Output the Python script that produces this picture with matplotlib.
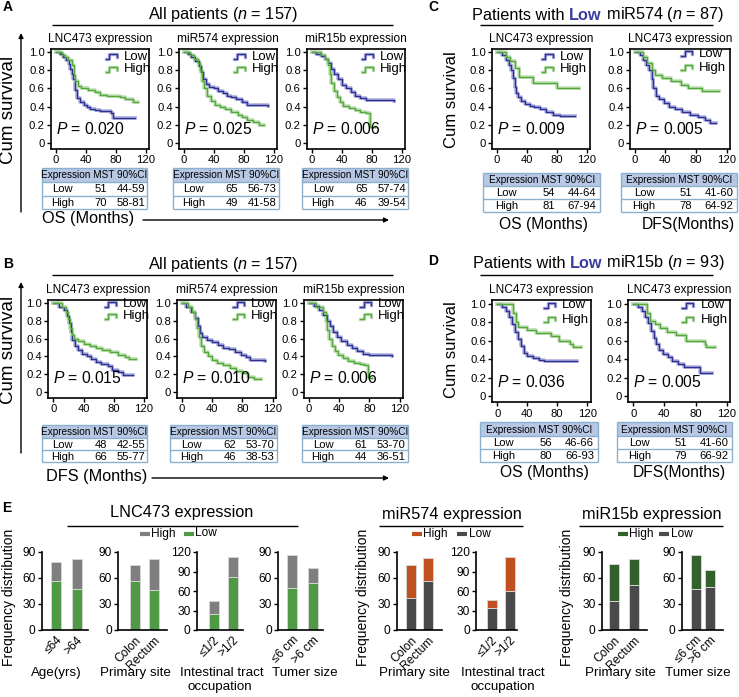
import numpy as np
import matplotlib
matplotlib.use('Agg')
import matplotlib.pyplot as plt
from matplotlib import transforms, font_manager as fm
from matplotlib.lines import Line2D
from matplotlib.patches import Rectangle, FancyArrowPatch
from matplotlib.offsetbox import TextArea, HPacker, AnnotationBbox

# ---------------- DATA ----------------
# Kaplan-Meier step points (months, survival)
A1_low_t = [0, 5, 10, 14, 17, 19, 21, 23, 25, 28, 32, 37, 41, 45, 52, 59, 74, 77, 106]
A1_low_s = [1.0, 0.98, 0.95, 0.92, 0.87, 0.82, 0.76, 0.70, 0.58, 0.49, 0.45, 0.42, 0.40, 0.37, 0.36, 0.35, 0.33, 0.27, 0.27]
A1_high_t = [0, 8, 12, 16, 21, 24, 26, 30, 34, 43, 52, 59, 68, 86, 92, 103, 110]
A1_high_s = [1.0, 0.97, 0.95, 0.92, 0.86, 0.75, 0.68, 0.63, 0.60, 0.58, 0.56, 0.53, 0.52, 0.50, 0.48, 0.45, 0.45]

A2_low_t = [0, 5, 10, 15, 20, 23, 26, 30, 34, 40, 46, 52, 58, 63, 70, 78, 85, 112]
A2_low_s = [1.0, 0.98, 0.95, 0.90, 0.85, 0.78, 0.70, 0.65, 0.62, 0.60, 0.57, 0.55, 0.52, 0.50, 0.48, 0.45, 0.42, 0.41]
A2_high_t = [0, 8, 14, 19, 22, 24, 27, 31, 36, 41, 48, 55, 63, 72, 78, 85, 92, 100, 107]
A2_high_s = [1.0, 0.97, 0.93, 0.88, 0.80, 0.68, 0.60, 0.52, 0.46, 0.42, 0.39, 0.37, 0.34, 0.31, 0.28, 0.25, 0.23, 0.20, 0.20]

A3_low_t = [0, 6, 12, 17, 22, 26, 30, 35, 40, 46, 52, 58, 65, 72, 110]
A3_low_s = [1.0, 0.98, 0.96, 0.93, 0.88, 0.82, 0.76, 0.70, 0.64, 0.60, 0.56, 0.52, 0.49, 0.47, 0.46]
A3_high_t = [0, 12, 17, 21, 24, 26, 29, 33, 37, 42, 50, 57, 64, 72, 78, 84]
A3_high_s = [1.0, 0.97, 0.93, 0.86, 0.76, 0.66, 0.57, 0.50, 0.45, 0.41, 0.38, 0.36, 0.34, 0.33, 0.17, 0.17]

B1_low_t = [0, 8, 14, 18, 21, 23, 25, 29, 33, 38, 44, 50, 56, 63, 72, 78, 85, 92, 106]
B1_low_s = [1.0, 0.96, 0.92, 0.86, 0.78, 0.68, 0.58, 0.52, 0.47, 0.43, 0.40, 0.37, 0.34, 0.31, 0.29, 0.25, 0.22, 0.19, 0.19]
B1_high_t = [0, 12, 17, 20, 22, 25, 28, 33, 40, 48, 56, 65, 75, 85, 95, 100, 110]
B1_high_s = [1.0, 0.96, 0.90, 0.82, 0.72, 0.64, 0.60, 0.57, 0.54, 0.52, 0.49, 0.47, 0.45, 0.42, 0.39, 0.37, 0.37]

B2_low_t = [0, 6, 12, 17, 21, 24, 27, 33, 40, 48, 55, 62, 70, 78, 85, 90, 110]
B2_low_s = [1.0, 0.96, 0.90, 0.83, 0.74, 0.66, 0.62, 0.59, 0.56, 0.53, 0.50, 0.48, 0.45, 0.42, 0.39, 0.36, 0.35]
B2_high_t = [0, 8, 13, 17, 20, 22, 25, 29, 34, 40, 47, 55, 63, 72, 80, 88, 95, 105]
B2_high_s = [1.0, 0.96, 0.90, 0.82, 0.72, 0.62, 0.52, 0.45, 0.40, 0.36, 0.33, 0.30, 0.27, 0.24, 0.21, 0.17, 0.14, 0.14]

B3_low_t = [0, 7, 13, 19, 24, 28, 32, 37, 43, 50, 57, 64, 72, 80, 110]
B3_low_s = [1.0, 0.97, 0.93, 0.87, 0.80, 0.74, 0.68, 0.62, 0.57, 0.53, 0.49, 0.46, 0.43, 0.41, 0.40]
B3_high_t = [0, 10, 18, 22, 24, 27, 30, 34, 39, 45, 52, 60, 68, 73, 78, 84]
B3_high_s = [1.0, 0.96, 0.90, 0.80, 0.70, 0.60, 0.52, 0.46, 0.42, 0.38, 0.35, 0.33, 0.31, 0.30, 0.16, 0.16]

C1_low_t = [0, 7, 12, 16, 19, 22, 24, 26, 29, 33, 38, 44, 50, 58, 66, 75, 84, 105]
C1_low_s = [1.0, 0.97, 0.92, 0.86, 0.80, 0.72, 0.62, 0.55, 0.50, 0.46, 0.43, 0.41, 0.39, 0.37, 0.34, 0.31, 0.30, 0.30]
C1_high_t = [0, 12, 18, 24, 30, 49, 80, 110]
C1_high_s = [1.0, 0.95, 0.90, 0.83, 0.73, 0.66, 0.61, 0.61]

C2_low_t = [0, 6, 11, 15, 19, 22, 24, 27, 32, 38, 45, 53, 62, 72, 82, 92, 98, 106]
C2_low_s = [1.0, 0.97, 0.92, 0.86, 0.80, 0.70, 0.60, 0.52, 0.48, 0.44, 0.40, 0.37, 0.34, 0.31, 0.28, 0.25, 0.22, 0.22]
C2_high_t = [0, 10, 16, 22, 26, 36, 47, 60, 70, 88, 110]
C2_high_s = [1.0, 0.95, 0.88, 0.80, 0.75, 0.72, 0.68, 0.64, 0.60, 0.57, 0.57]

D1_low_t = [0, 6, 11, 16, 20, 23, 27, 31, 35, 40, 47, 55, 62, 106]
D1_low_s = [1.0, 0.97, 0.92, 0.86, 0.78, 0.70, 0.62, 0.54, 0.47, 0.43, 0.41, 0.39, 0.38, 0.38]
D1_high_t = [0, 21, 25, 28, 40, 52, 72, 82, 97, 101, 111]
D1_high_s = [1.0, 0.90, 0.80, 0.75, 0.72, 0.68, 0.65, 0.60, 0.56, 0.53, 0.53]

D2_low_t = [0, 6, 11, 15, 19, 23, 26, 29, 33, 38, 44, 50, 57, 65, 84, 86, 101]
D2_low_s = [1.0, 0.97, 0.92, 0.86, 0.79, 0.71, 0.63, 0.56, 0.50, 0.46, 0.42, 0.38, 0.35, 0.32, 0.31, 0.25, 0.25]
D2_high_t = [0, 18, 21, 28, 34, 43, 55, 68, 92, 94, 105]
D2_high_s = [1.0, 0.90, 0.82, 0.78, 0.74, 0.70, 0.66, 0.60, 0.56, 0.53, 0.53]

p_A = ['0.020', '0.025', '0.006']
p_B = ['0.015', '0.010', '0.006']
p_C = ['0.009', '0.005']
p_D = ['0.036', '0.005']

sub_AB = ['LNC473 expression', 'miR574 expression', 'miR15b expression']
sub_CD = ['LNC473 expression', 'LNC473 expression']

# tables: (group, MST, 90%CI)
tab_A = [[('Low', 51, '44-59'), ('High', 70, '58-81')],
         [('Low', 65, '56-73'), ('High', 49, '41-58')],
         [('Low', 65, '57-74'), ('High', 46, '39-54')]]
tab_B = [[('Low', 48, '42-55'), ('High', 66, '55-77')],
         [('Low', 62, '53-70'), ('High', 46, '38-53')],
         [('Low', 61, '53-70'), ('High', 44, '36-51')]]
tab_C = [[('Low', 54, '44-64'), ('High', 81, '67-94')],
         [('Low', 51, '41-60'), ('High', 78, '64-92')]]
tab_D = [[('Low', 56, '46-66'), ('High', 80, '66-93')],
         [('Low', 51, '41-60'), ('High', 79, '66-92')]]

km_xticks = [0, 40, 80, 120]
km_yticks = [0, 0.2, 0.4, 0.6, 0.8, 1.0]
km_yticklabels = ['0', '0.2', '0.4', '0.6', '0.8', '1.0']

# panel E bar data
E_age_cats = ['≤64', '>64'];           E_age_low = [57, 47];   E_age_high = [22, 35]
E_site_cats = ['Colon', 'Rectum'];     E_site_low = [57, 46];  E_site_high = [18, 36]
E_int_cats = ['≤1/2', '>1/2'];         E_int_low = [24, 81];   E_int_high = [21, 32]
E_tum_cats = ['≤6 cm', '>6 cm'];       E_tum_low = [49, 54];   E_tum_high = [37, 17]
M574_site_low = [37, 56];  M574_site_high = [38, 27]
M574_int_low = [34, 60];   M574_int_high = [12, 52]
M15_site_low = [34, 52];   M15_site_high = [42, 30]
M15_tum_low = [47, 50];    M15_tum_high = [39, 19]

# ---------------- FONTS ----------------
names = {f.name for f in fm.fontManager.ttflist}
NARROW = 'Liberation Sans Narrow' in names
HF = 'Liberation Sans Narrow' if NARROW else 'Liberation Sans'
VF = 'Liberation Sans'
K = 1.0 if NARROW else 0.9
KT = 1.0 if NARROW else 0.84
def fs(x):
    return x * K

plt.rcParams['font.family'] = [HF, 'DejaVu Sans']
plt.rcParams['mathtext.fontset'] = 'custom'
plt.rcParams['mathtext.rm'] = HF
plt.rcParams['mathtext.it'] = HF + ':italic'
plt.rcParams['mathtext.bf'] = HF + ':bold'

W, H = 739, 697
fig = plt.figure(figsize=(W / 100, H / 100), dpi=100)
pix = transforms.Affine2D().scale(1 / W, -1 / H).translate(0, 1) + fig.transFigure

def add_ax(l, t, r, b):
    return fig.add_axes([l / W, 1 - b / H, (r - l) / W, (b - t) / H])

def ftxt(x, y, s, size, ha='center', va='center', family=None, **kw):
    fam = family if family else [HF, 'DejaVu Sans']
    return fig.text(x, y, s, transform=pix, fontsize=size, ha=ha, va=va, family=fam, **kw)

def fline(x0, y0, x1, y1, lw=1.0, color='black'):
    fig.add_artist(Line2D([x0, x1], [y0, y1], transform=pix, color=color, lw=lw, solid_capstyle='butt'))

def farrow(x0, y0, x1, y1):
    fig.add_artist(FancyArrowPatch((x0, y0), (x1, y1), transform=pix, arrowstyle='-|>',
                                   mutation_scale=7, lw=1.0, color='black', shrinkA=0, shrinkB=0))

BLUE = '#2f3192'; BLUE_H = '#aeb0de'
GREEN = '#55a83f'; GREEN_H = '#bfe0b3'
TB_FILL = '#b8c8e4'; TB_EDGE = '#8ab0cf'

def km_plot(box, low, high, pval, sub, leg_x, leg_y):
    l, t, r, b = box
    ax = add_ax(l, t, r, b)
    for (tt, ss), ch in zip((low, high), (BLUE_H, GREEN_H)):
        ax.step(tt, ss, where='post', color=ch, lw=2.6)
    for (tt, ss), c in zip((low, high), (BLUE, GREEN)):
        ax.step(tt, ss, where='post', color=c, lw=1.0)
    ax.set_xlim(-6.5, 124.5)
    ax.set_ylim(-0.07, 1.04)
    ax.set_xticks(km_xticks)
    ax.set_yticks(km_yticks)
    ax.set_yticklabels(km_yticklabels)
    ax.tick_params(direction='out', length=3, width=1, labelsize=fs(9), pad=1.5)
    for s in ax.spines.values():
        s.set_linewidth(1.2)
    ax.text(0, 0.15, '$P$ = ' + pval, fontsize=fs(12.5), ha='left', va='center')
    for y, c, ch, lab in zip(leg_y, (BLUE, GREEN), (BLUE_H, GREEN_H), ('Low', 'High')):
        hx = [leg_x, leg_x + 0.035, leg_x + 0.035, leg_x + 0.11, leg_x + 0.11]
        hy = [y - 0.025, y - 0.025, y + 0.025, y + 0.025, y - 0.005]
        ax.plot(hx, hy, transform=ax.transAxes, color=ch, lw=2.4, clip_on=False)
        ax.plot(hx, hy, transform=ax.transAxes, color=c, lw=1.0, clip_on=False)
        ax.text(leg_x + 0.18, y, lab, transform=ax.transAxes, fontsize=fs(10.5), ha='left', va='center')
    ftxt((l + r) / 2, t - 10, sub, fs(9.5))
    return ax

def table(x0, x1, ys, rows):
    y0, y1, y2, y3 = ys
    w = x1 - x0
    fig.add_artist(Rectangle((x0, y0), w, y1 - y0, transform=pix, facecolor=TB_FILL, edgecolor='none'))
    for yy in (y0, y1, y2, y3):
        fline(x0, yy, x1, yy, lw=1.0, color=TB_EDGE)
    fline(x0, y0, x0, y3, lw=1.0, color=TB_EDGE)
    fline(x1, y0, x1, y3, lw=1.0, color=TB_EDGE)
    ftxt((x0 + x1) / 2, (y0 + y1) / 2 + 0.5, 'Expression MST 90%CI', 8.6 * KT)
    for (lab, mst, ci), (ya, yb) in zip(rows, ((y1, y2), (y2, y3))):
        ym = (ya + yb) / 2 + 0.5
        ftxt(x0 + 0.2 * w, ym, lab, fs(9))
        ftxt(x0 + 0.56 * w, ym, str(mst), fs(9))
        ftxt(x0 + 0.845 * w, ym, ci, fs(9))

def multi_title(x, y, parts, size):
    children = [TextArea(s, textprops=dict(fontsize=size, color=c, fontweight=wt, family=[HF, 'DejaVu Sans']))
                for s, c, wt in parts]
    box = HPacker(children=children, align='baseline', pad=0, sep=0)
    ab = AnnotationBbox(box, (x, y), xycoords=pix, frameon=False, box_alignment=(0.5, 0.5), pad=0)
    fig.add_artist(ab)

# ---------------- PANEL A ----------------
ftxt(8, 7, 'A', 10, family=VF, fontweight='bold')
ftxt(223, 15, 'All patients ($n$ = 157)', fs(13))
fline(52, 25, 393, 25)
A_lefts = [51, 179, 307]
A_curves = [((A1_low_t, A1_low_s), (A1_high_t, A1_high_s)),
            ((A2_low_t, A2_low_s), (A2_high_t, A2_high_s)),
            ((A3_low_t, A3_low_s), (A3_high_t, A3_high_s))]
for i in range(3):
    km_plot((A_lefts[i], 48.7, A_lefts[i] + 98, 149), A_curves[i][0], A_curves[i][1], p_A[i], sub_AB[i],
            0.56, (0.92, 0.795))
A_tabx = [(41.7, 147.3), (172.7, 278.7), (301.7, 408)]
for i in range(3):
    table(A_tabx[i][0], A_tabx[i][1], (168, 182, 195.5, 209), tab_A[i])
ftxt(8.5, 110, 'Cum survival', 13.5, family=VF, rotation=90)
farrow(21, 212, 21, 33)
ftxt(88, 219, 'OS (Months)', fs(13))
farrow(143, 220, 389, 220)

# ---------------- PANEL B ----------------
ftxt(8, 264, 'B', 10, family=VF, fontweight='bold')
ftxt(223, 265, 'All patients ($n$ = 157)', fs(13))
fline(52, 275, 393, 275)
B_lefts = [48.4, 177, 304]
B_curves = [((B1_low_t, B1_low_s), (B1_high_t, B1_high_s)),
            ((B2_low_t, B2_low_s), (B2_high_t, B2_high_s)),
            ((B3_low_t, B3_low_s), (B3_high_t, B3_high_s))]
for i in range(3):
    km_plot((B_lefts[i], 299.8, B_lefts[i] + 99, 397.9), B_curves[i][0], B_curves[i][1], p_B[i], sub_AB[i],
            0.57, (0.955, 0.83))
B_tabx = [(41.7, 147.3), (170, 276.7), (301.7, 408)]
for i in range(3):
    table(B_tabx[i][0], B_tabx[i][1], (425, 438, 450, 462), tab_B[i])
ftxt(8.5, 350, 'Cum survival', 13.5, family=VF, rotation=90)
farrow(21, 453, 21, 282)
ftxt(96.7, 477, 'DFS (Months)', fs(13))
farrow(152, 478, 389, 478)

# ---------------- PANEL C ----------------
ftxt(433, 7, 'C', 10, family=VF, fontweight='bold')
multi_title(598, 15, [('Patients with ', 'black', 'normal'), ('Low', '#3a3ca0', 'bold'),
                      (' miR574 ($n$ = 87)', 'black', 'normal')], fs(13))
fline(480, 25, 713, 25)
C_boxes = [(491.8, 48.7, 590.1, 149), (630, 48.7, 730, 149)]
C_curves = [((C1_low_t, C1_low_s), (C1_high_t, C1_high_s)),
            ((C2_low_t, C2_low_s), (C2_high_t, C2_high_s))]
C_legy = [(0.92, 0.795), (0.95, 0.81)]
for i in range(2):
    km_plot(C_boxes[i], C_curves[i][0], C_curves[i][1], p_C[i], sub_CD[i], 0.51, C_legy[i])
C_tabx = [(483.3, 600), (620.7, 737.3)]
for i in range(2):
    table(C_tabx[i][0], C_tabx[i][1], (173.3, 186, 198.5, 211.7), tab_C[i])
ftxt(451, 100, 'Cum survival', 12, family=VF, rotation=90)
ftxt(543, 224, 'OS (Months)', fs(12.5))
ftxt(688, 224, 'DFS(Months)', fs(12.5))

# ---------------- PANEL D ----------------
ftxt(433, 261, 'D', 10, family=VF, fontweight='bold')
multi_title(599, 263, [('Patients with ', 'black', 'normal'), ('Low', '#3a3ca0', 'bold'),
                       (' miR15b ($n$ = 93)', 'black', 'normal')], fs(13))
fline(480, 275, 713, 275)
D_boxes = [(492.4, 300.3, 590.7, 402.4), (628.2, 300.3, 730.2, 402.4)]
D_curves = [((D1_low_t, D1_low_s), (D1_high_t, D1_high_s)),
            ((D2_low_t, D2_low_s), (D2_high_t, D2_high_s))]
for i in range(2):
    km_plot(D_boxes[i], D_curves[i][0], D_curves[i][1], p_D[i], sub_CD[i], 0.53, (0.95, 0.81))
D_tabx = [(480, 597.7), (616.7, 731.7)]
for i in range(2):
    table(D_tabx[i][0], D_tabx[i][1], (422.3, 436, 449, 462.3), tab_D[i])
ftxt(451, 350, 'Cum survival', 12, family=VF, rotation=90)
ftxt(544, 472.7, 'OS (Months)', fs(12.5))
ftxt(679, 472.7, 'DFS(Months)', fs(12.5))

# ---------------- PANEL E ----------------
ftxt(7, 508, 'E', 10, family=VF, fontweight='bold')
EDGE = '#d4d4d4'
LNC_G = '#4f9a44'; LNC_GR = '#7f7f80'
M574_O = '#c0501f'; DARK = '#4a4a4c'
M15_G = '#33612b'

def bar_plot(px, cats, low, high, c_low, c_high, ymax, yt):
    left, right, c0, c1, bw = px
    ax = add_ax(left, 552, right, 630)
    unit = c1 - c0
    x = np.arange(len(cats))
    ax.bar(x, low, width=bw / unit, color=c_low, edgecolor=EDGE, lw=0.7)
    ax.bar(x, high, bottom=low, width=bw / unit, color=c_high, edgecolor=EDGE, lw=0.7)
    ax.set_xlim(-(c0 - left) / unit, 1 + (right - c1) / unit)
    ax.set_ylim(0, ymax)
    ax.set_yticks(yt)
    ax.set_xticks(x)
    ax.set_xticklabels(cats, rotation=45, ha='right', rotation_mode='anchor', fontsize=fs(8.8))
    ax.tick_params(direction='out', length=3, width=1, labelsize=fs(9.5), pad=1.5)
    ax.tick_params(axis='x', length=0, pad=3)
    for s in ('top', 'right'):
        ax.spines[s].set_visible(False)
    for s in ('left', 'bottom'):
        ax.spines[s].set_linewidth(1.2)
    return ax

yt90 = [0, 30, 60, 90]
yt120 = [0, 30, 60, 90, 120]
bar_plot((41.7, 88.3, 55.8, 76.7, 10.3), E_age_cats, E_age_low, E_age_high, LNC_G, LNC_GR, 90, yt90)
bar_plot((118.3, 166.7, 135, 153.7, 10.3), E_site_cats, E_site_low, E_site_high, LNC_G, LNC_GR, 90, yt90)
bar_plot((196.7, 243, 214, 232.8, 10), E_int_cats, E_int_low, E_int_high, LNC_G, LNC_GR, 120, yt120)
bar_plot((278.3, 322.7, 292.3, 313, 10.3), E_tum_cats, E_tum_low, E_tum_high, LNC_G, LNC_GR, 90, yt90)
bar_plot((396.7, 441.7, 410.7, 428.3, 10), E_site_cats, M574_site_low, M574_site_high, DARK, M574_O, 90, yt90)
bar_plot((476, 516.7, 492, 510, 9.6), E_int_cats, M574_int_low, M574_int_high, DARK, M574_O, 120, yt120)
bar_plot((601.7, 646.7, 614.3, 633.5, 10), E_site_cats, M15_site_low, M15_site_high, DARK, M15_G, 90, yt90)
bar_plot((681.7, 723.3, 695.7, 709.7, 10), E_tum_cats, M15_tum_low, M15_tum_high, DARK, M15_G, 90, yt90)

# E titles / legends
ftxt(182, 513, 'LNC473 expression', fs(13))
fline(66.7, 526, 297.7, 526)
ftxt(452, 514, 'miR574 expression', fs(13))
fline(379, 525.7, 522.7, 525.7)
ftxt(652, 514, 'miR15b expression', fs(13))
fline(579, 525.7, 723, 525.7)

def eleg(items, y):
    for (x0, x1, c, lab) in items:
        fline(x0, y, x1, y, lw=3, color=c)
        ftxt(x1 + 1.5, y, lab, fs(9.5), ha='left')

eleg([(140, 150, LNC_GR, 'High'), (184, 194, LNC_G, 'Low')], 533.5)
eleg([(411.7, 421.7, M574_O, 'High'), (457, 467, DARK, 'Low')], 534)
eleg([(618, 628, M15_G, 'High'), (659, 669, DARK, 'Low')], 534)

ftxt(9, 597, 'Frequency distribution', 10, family=VF, rotation=90)
ftxt(363, 597, 'Frequency distribution', 10, family=VF, rotation=90)
ftxt(567, 597, 'Frequency distribution', 10, family=VF, rotation=90)

CAT_FS = 12 if NARROW else 9.6
ftxt(56, 673, 'Age(yrs)', CAT_FS)
ftxt(135, 673, 'Primary site', CAT_FS)
ftxt(221.7, 673, 'Intestinal tract', CAT_FS)
ftxt(220, 687, 'occupation', CAT_FS)
ftxt(304.5, 673, 'Tumer size', CAT_FS)
ftxt(414, 673, 'Primary site', CAT_FS)
ftxt(503.3, 673, 'Intestinal tract', CAT_FS)
ftxt(503.3, 687, 'occupation', CAT_FS)
ftxt(620.8, 673, 'Primary site', CAT_FS)
ftxt(698.3, 673, 'Tumer size', CAT_FS)

fig.savefig('out.png', dpi=100)
